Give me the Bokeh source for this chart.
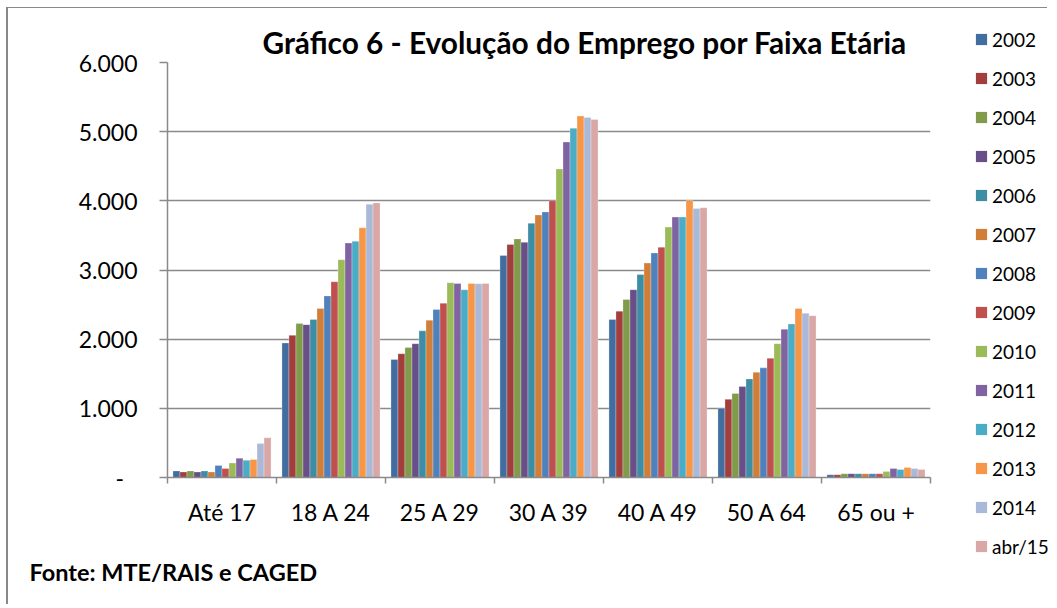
from bokeh.plotting import figure
from bokeh.layouts import row
from bokeh.models import ColumnDataSource, Range1d, FixedTicker, Legend, LegendItem, Title
from bokeh.transform import dodge
from bokeh.embed import file_html
from bokeh.resources import INLINE

categories = ["Até 17", "18 A 24", "25 A 29", "30 A 39", "40 A 49", "50 A 64", "65 ou +"]
series_names = ["2002", "2003", "2004", "2005", "2006", "2007", "2008",
                "2009", "2010", "2011", "2012", "2013", "2014", "abr/15"]

v2002 = [95, 1945, 1705, 3210, 2285, 1000, 40]
v2003 = [80, 2055, 1790, 3370, 2405, 1130, 40]
v2004 = [95, 2225, 1880, 3450, 2575, 1215, 55]
v2005 = [80, 2210, 1935, 3400, 2715, 1315, 55]
v2006 = [95, 2285, 2120, 3675, 2935, 1425, 55]
v2007 = [80, 2445, 2275, 3795, 3100, 1520, 55]
v2008 = [175, 2625, 2430, 3840, 3245, 1585, 55]
v2009 = [130, 2830, 2520, 4000, 3330, 1725, 55]
v2010 = [210, 3150, 2815, 4460, 3620, 1935, 85]
v2011 = [280, 3390, 2805, 4850, 3765, 2145, 130]
v2012 = [250, 3415, 2715, 5050, 3765, 2220, 115]
v2013 = [260, 3610, 2805, 5225, 4005, 2445, 145]
v2014 = [490, 3950, 2800, 5205, 3890, 2375, 130]
vabr15 = [575, 3970, 2805, 5175, 3900, 2340, 115]

series_values = [v2002, v2003, v2004, v2005, v2006, v2007, v2008,
                 v2009, v2010, v2011, v2012, v2013, v2014, vabr15]

colors = ["#426DA1", "#A23E3B", "#809C4A", "#684F87", "#3D8DA5", "#D17E38", "#4F81BD",
          "#C0504D", "#9BBB59", "#8064A2", "#4BACC6", "#F79646", "#AAB9D8", "#D9A7A6"]

y_ticks = [0, 1000, 2000, 3000, 4000, 5000, 6000]
y_tick_labels = ["-\u2007", "1.000", "2.000", "3.000", "4.000", "5.000", "6.000"]

title_text = "Gráfico 6 - Evolução do Emprego por Faixa Etária"
source_text = "Fonte: MTE/RAIS e CAGED"

FONT = "Lato"
GRAY = "#8a8a8a"
NAN = float("nan")

pos = [i + 0.5 for i in range(len(categories))]
data = {"pos": pos}
keys = []
for i, vals in enumerate(series_values):
    k = "s%d" % i
    keys.append(k)
    data[k] = vals
src = ColumnDataSource(data)

H = 597

# ---------------- main chart ----------------
p = figure(width=950, height=H, x_range=Range1d(0, len(categories)), y_range=Range1d(0, 6000),
           output_backend="svg", toolbar_location=None,
           min_border_left=159, min_border_right=28, min_border_top=54, min_border_bottom=124,
           outline_line_color=None)

n = len(series_names)
group_w = 0.9
bw = group_w / n
for i, (k, c) in enumerate(zip(keys, colors)):
    off = (i - (n - 1) / 2) * bw
    p.vbar(x=dodge("pos", off), top=k, width=bw, source=src,
           fill_color=c, line_color="white", line_alpha=0.35, line_width=0.8)

# x axis
p.xaxis.ticker = FixedTicker(ticks=pos, minor_ticks=list(range(len(categories) + 1)))
p.xaxis.major_label_overrides = {pp: c for pp, c in zip(pos, categories)}
p.xaxis.major_tick_in = 0
p.xaxis.major_tick_out = 0
p.xaxis.minor_tick_in = 0
p.xaxis.minor_tick_out = 6
p.xaxis.minor_tick_line_color = GRAY
p.xaxis.minor_tick_line_width = 1.5
p.xaxis.axis_line_color = GRAY
p.xaxis.axis_line_width = 1.5
p.xaxis.major_label_text_font = FONT
p.xaxis.major_label_text_font_size = "23px"
p.xaxis.major_label_text_color = "#000000"
p.xaxis.major_label_standoff = 14
p.xaxis.axis_label = "\u00a0"
p.xaxis.axis_label_text_font_size = "4px"
p.xaxis.axis_label_standoff = 0

# y axis
p.yaxis.ticker = FixedTicker(ticks=y_ticks, minor_ticks=[])
p.yaxis.major_label_overrides = {t: l for t, l in zip(y_ticks, y_tick_labels)}
p.yaxis.major_tick_in = 0
p.yaxis.major_tick_out = 8
p.yaxis.major_tick_line_color = GRAY
p.yaxis.major_tick_line_width = 1.5
p.yaxis.minor_tick_line_color = None
p.yaxis.axis_line_color = GRAY
p.yaxis.axis_line_width = 1.5
p.yaxis.major_label_text_font = FONT
p.yaxis.major_label_text_font_size = "23px"
p.yaxis.major_label_text_color = "#000000"
p.yaxis.major_label_standoff = 22

p.xgrid.visible = False
p.ygrid.grid_line_color = GRAY
p.ygrid.grid_line_width = 1.5

p.title.text = title_text
p.title.align = "left"
p.title.offset = 95
p.title.standoff = 5
p.title.text_font = FONT
p.title.text_font_size = "29.8px"
p.title.text_font_style = "bold"
p.title.text_color = "#000000"

note = Title(text=source_text, align="left", offset=-138, standoff=39,
             text_font=FONT, text_font_size="23.5px", text_font_style="bold",
             text_color="#000000")
p.add_layout(note, "below")

p.background_fill_color = "white"
p.border_fill_color = "white"

# ---------------- legend panel ----------------
p2 = figure(width=91, height=H, x_range=Range1d(0, 1), y_range=Range1d(0, 1),
            output_backend="svg", toolbar_location=None,
            x_axis_type=None, y_axis_type=None, outline_line_color=None,
            min_border_left=0, min_border_right=0, min_border_top=0, min_border_bottom=0)
if "frame_align" in p.properties():
    p.frame_align = False
    p2.frame_align = False
p2.xgrid.visible = False
p2.ygrid.visible = False
items = []
for name, c in zip(series_names, colors):
    r = p2.quad(left=[NAN], right=[NAN], top=[NAN], bottom=[NAN], fill_color=c,
                line_color=None)
    items.append(LegendItem(label=name, renderers=[r]))

legend = Legend(items=items, location=(16, 47), orientation="vertical",
                glyph_width=14, glyph_height=14, label_standoff=4, spacing=15,
                label_height=24, padding=0, margin=0, border_line_color=None,
                background_fill_alpha=0, label_text_font=FONT, label_text_font_size="19px",
                label_text_color="#000000")
p2.add_layout(legend)

layout = row(p, p2, margin=(8, 0, 0, 8), styles={"box-shadow": "-2px -1px 0 0 #888888"})

open("out.html", "w").write(file_html(layout, INLINE))
